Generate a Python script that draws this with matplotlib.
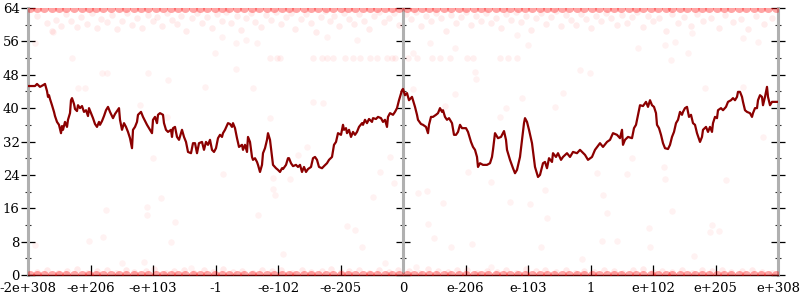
import matplotlib
matplotlib.use('Agg')
import matplotlib.pyplot as plt
from matplotlib.ticker import MultipleLocator

##---------------------------input data-------------------------------##
tick_pos = [-6, -5, -4, -3, -2, -1, 0, 1, 2, 3, 4, 5, 6]
tick_labels = ['-2e+308', '-e+206', '-e+103', '-1', '-e-102', '-e-205', '0',
               'e-206', 'e-103', '1', 'e+102', 'e+205', 'e+308']

# the dark red curve
line_x = [-6.0, -5.888, -5.856, -5.808, -5.76, -5.728, -5.696, -5.68, -5.664, -5.648, -5.616, -5.584,
          -5.568, -5.536, -5.504, -5.472, -5.456, -5.44, -5.408, -5.376, -5.36, -5.328, -5.312, -5.296,
          -5.264, -5.248, -5.216, -5.2, -5.168, -5.136, -5.104, -5.072, -5.04, -5.024, -4.992, -4.96,
          -4.928, -4.896, -4.864, -4.848, -4.816, -4.784, -4.752, -4.72, -4.688, -4.656, -4.64, -4.608,
          -4.576, -4.544, -4.528, -4.496, -4.464, -4.432, -4.4, -4.368, -4.336, -4.32, -4.288, -4.256,
          -4.24, -4.192, -4.16, -4.096, -4.048, -4.016, -4.0, -3.968, -3.936, -3.92, -3.888, -3.84,
          -3.824, -3.792, -3.76, -3.712, -3.696, -3.68, -3.648, -3.616, -3.584, -3.536, -3.504, -3.472,
          -3.44, -3.392, -3.36, -3.328, -3.296, -3.264, -3.216, -3.184, -3.152, -3.12, -3.088, -3.056,
          -3.024, -2.992, -2.96, -2.928, -2.896, -2.88, -2.848, -2.8, -2.768, -2.736, -2.72, -2.688,
          -2.656, -2.624, -2.576, -2.56, -2.528, -2.496, -2.48, -2.448, -2.416, -2.4, -2.368, -2.336,
          -2.32, -2.288, -2.256, -2.24, -2.208, -2.176, -2.16, -2.128, -2.096, -2.08, -2.032, -2.0,
          -1.968, -1.936, -1.92, -1.872, -1.84, -1.824, -1.792, -1.76, -1.712, -1.68, -1.648, -1.616,
          -1.584, -1.552, -1.52, -1.472, -1.44, -1.408, -1.376, -1.344, -1.296, -1.264, -1.216, -1.184,
          -1.136, -1.104, -1.072, -1.04, -0.992, -0.96, -0.944, -0.912, -0.896, -0.864, -0.832, -0.8,
          -0.768, -0.736, -0.704, -0.656, -0.64, -0.608, -0.576, -0.544, -0.496, -0.48, -0.432, -0.4,
          -0.352, -0.32, -0.288, -0.256, -0.24, -0.208, -0.16, -0.128, -0.096, -0.064, -0.016,
          0.0, 0.032, 0.064, 0.096, 0.144, 0.16, 0.192, 0.224, 0.24, 0.288, 0.32, 0.368, 0.4, 0.416,
          0.448, 0.48, 0.528, 0.56, 0.592, 0.624, 0.64, 0.672, 0.704, 0.736, 0.784, 0.816, 0.848, 0.88,
          0.912, 0.944, 0.976, 1.008, 1.04, 1.088, 1.12, 1.152, 1.184, 1.2, 1.232, 1.28, 1.344, 1.392,
          1.424, 1.44, 1.472, 1.52, 1.568, 1.616, 1.648, 1.664, 1.712, 1.76, 1.792, 1.824, 1.872, 1.904,
          1.936, 1.952, 1.984, 2.016, 2.064, 2.112, 2.16, 2.192, 2.24, 2.272, 2.304, 2.336, 2.384, 2.4,
          2.448, 2.48, 2.528, 2.56, 2.624, 2.672, 2.72, 2.784, 2.832, 2.912, 2.96, 3.024, 3.072, 3.152,
          3.2, 3.264, 3.312, 3.36, 3.424, 3.472, 3.504, 3.52, 3.552, 3.6, 3.664, 3.696, 3.728, 3.76,
          3.792, 3.84, 3.888, 3.92, 3.952, 3.984, 4.016, 4.048, 4.064, 4.096, 4.128, 4.16, 4.192, 4.24,
          4.272, 4.304, 4.336, 4.368, 4.4, 4.432, 4.464, 4.48, 4.512, 4.544, 4.576, 4.608, 4.64, 4.672,
          4.704, 4.752, 4.784, 4.8, 4.848, 4.88, 4.912, 4.944, 4.96, 4.992, 5.024, 5.04, 5.088, 5.12,
          5.168, 5.2, 5.248, 5.28, 5.312, 5.344, 5.36, 5.392, 5.424, 5.44, 5.472, 5.504, 5.552, 5.584,
          5.6, 5.632, 5.664, 5.68, 5.712, 5.744, 5.76, 5.792, 5.824, 5.84, 5.872, 5.904, 5.952, 6.0]
line_y = [45.3, 45.3, 45.8, 45.1, 45.5, 45.8, 44.1, 42.7, 43.1, 42.2, 40.7, 39.1,
          38.1, 36.7, 36.0, 34.0, 35.7, 34.8, 36.7, 35.5, 37.2, 38.8, 41.9, 42.4,
          41.0, 39.8, 39.3, 40.7, 40.0, 40.5, 39.1, 39.5, 38.1, 40.0, 38.8, 37.6,
          36.2, 35.5, 36.7, 36.0, 36.9, 38.1, 39.5, 40.3, 39.1, 38.1, 37.6, 38.6,
          39.3, 40.0, 37.2, 34.8, 36.4, 35.5, 34.3, 32.8, 30.4, 34.8, 35.5, 36.7,
          38.4, 39.1, 37.9, 36.0, 34.8, 34.0, 37.2, 37.9, 36.4, 38.4, 38.8, 38.4,
          36.4, 34.8, 34.3, 34.8, 33.1, 35.2, 35.5, 33.1, 32.4, 34.8, 33.1, 31.9,
          29.5, 29.2, 31.6, 31.6, 29.2, 31.6, 31.9, 30.0, 31.9, 31.2, 32.4, 30.0,
          29.5, 30.4, 32.8, 33.6, 33.1, 34.0, 34.8, 36.4, 36.2, 35.5, 36.4, 35.2,
          32.8, 30.7, 31.2, 30.0, 31.2, 29.5, 33.1, 31.9, 28.3, 27.6, 28.0, 27.1,
          26.4, 24.7, 26.4, 29.2, 30.4, 32.4, 34.0, 32.4, 28.3, 26.4, 25.6, 25.2,
          24.7, 25.6, 25.4, 26.4, 28.0, 28.0, 26.8, 26.1, 26.4, 25.9, 26.4, 24.7,
          25.9, 24.7, 25.4, 25.9, 28.0, 28.3, 27.6, 25.9, 25.6, 26.1, 26.8, 27.6,
          28.3, 31.2, 31.9, 34.0, 33.6, 36.0, 34.8, 35.2, 34.0, 34.8, 33.1, 34.3,
          33.6, 34.3, 35.5, 36.4, 36.0, 37.2, 36.4, 37.4, 36.7, 37.6, 37.4, 37.9,
          37.6, 36.7, 37.2, 35.5, 37.9, 38.8, 38.4, 39.1, 40.0, 41.9, 44.3,
          44.6, 43.1, 43.6, 41.9, 42.7, 41.9, 40.3, 38.4, 37.2, 36.2, 36.0, 35.5, 34.0, 36.0,
          37.9, 37.9, 38.4, 38.8, 40.0, 39.1, 39.5, 37.9, 37.2, 37.6, 36.4, 33.6, 33.6, 34.3,
          36.0, 35.2, 35.2, 35.2, 34.3, 31.9, 30.7, 30.0, 28.3, 25.9, 26.8, 26.4, 26.4, 26.8,
          28.3, 30.0, 34.0, 32.8, 33.1, 34.5, 32.4, 30.0, 27.6, 25.6, 24.4, 25.2, 28.3, 32.4,
          36.4, 37.6, 36.7, 34.8, 31.6, 25.9, 23.5, 24.0, 26.8, 27.1, 25.6, 28.0, 27.1, 29.2,
          28.3, 29.2, 27.6, 28.3, 29.2, 28.3, 29.5, 29.2, 30.0, 28.8, 27.6, 28.3, 30.0, 31.6,
          30.7, 31.9, 32.4, 34.0, 33.6, 32.8, 34.8, 31.2, 32.4, 33.1, 32.8, 35.2, 36.0, 38.4,
          40.7, 40.5, 41.5, 40.3, 41.9, 40.7, 40.3, 38.8, 36.0, 35.2, 33.6, 31.6, 30.4, 30.2,
          31.2, 33.1, 34.3, 36.4, 37.2, 39.1, 38.4, 39.1, 40.0, 40.3, 37.9, 38.4, 36.4, 36.0,
          34.0, 31.9, 33.1, 34.8, 35.5, 34.3, 35.5, 34.3, 36.4, 37.9, 37.6, 39.5, 40.0, 39.5,
          40.3, 41.5, 41.9, 42.4, 41.9, 42.7, 43.9, 43.9, 42.7, 41.5, 39.5, 39.1, 38.8, 37.9,
          38.8, 40.0, 40.0, 41.9, 43.1, 42.7, 40.7, 42.7, 45.1, 42.7, 40.7, 41.5, 41.5, 41.5]

# faint sample cloud near the top
top_x = [-5.86, -5.7, -5.62, -5.55, -5.47, -5.4, -5.31, -5.22, -5.15, -5.06, -4.98, -4.9, -4.83,
         -4.74, -4.65, -4.58, -4.5, -4.41, -4.33, -4.25, -4.17, -4.08, -4.0, -3.93, -3.85, -3.78,
         -3.7, -3.61, -3.55, -3.47, -3.38, -3.3, -3.22, -3.14, -3.06, -2.98, -2.9, -2.83, -2.75,
         -2.66, -2.6, -2.52, -2.44, -2.37, -2.28, -2.2, -2.12, -2.04, -1.96, -1.88, -1.8, -1.73,
         -1.64, -1.56, -1.48, -1.4, -1.32, -1.25, -1.17, -1.1, -1.02, -0.94, -0.86, -0.78, -0.7,
         -0.62, -0.55, -0.46, -0.38, -0.3, -0.22, -0.14, -0.06, 0.04, 0.12, 0.2, 0.28, 0.36, 0.44,
         0.52, 0.6, 0.68, 0.76, 0.84, 0.92, 1.0, 1.08, 1.16, 1.24, 1.32, 1.4, 1.48, 1.56, 1.64,
         1.72, 1.8, 1.88, 1.96, 2.04, 2.12, 2.2, 2.28, 2.36, 2.44, 2.52, 2.6, 2.68, 2.76, 2.84,
         2.92, 3.0, 3.08, 3.17, 3.25, 3.33, 3.42, 3.5, 3.58, 3.67, 3.75, 3.84, 3.92, 4.0, 4.1,
         4.2, 4.3, 4.4, 4.5, 4.6, 4.7, 4.8, 4.92, 5.05, 5.15, 5.28, 5.4, 5.52, 5.65, 5.78, 5.9]
top_y = [62.1, 60.3, 58.4, 61.2, 59.8, 62.6, 60.9, 59.5, 61.8, 60.2, 62.9, 59.1, 61.4,
         60.6, 62.3, 58.9, 61.0, 62.7, 60.0, 61.7, 59.3, 62.4, 60.8, 61.9, 59.6, 62.8,
         61.1, 60.1, 62.2, 58.6, 61.5, 62.9, 60.4, 61.8, 59.2, 62.5, 61.0, 63.1, 60.3,
         62.0, 58.7, 61.6, 62.8, 60.7, 59.4, 62.3, 61.2, 63.0, 60.1, 61.9, 62.7, 59.0,
         61.4, 62.6, 60.5, 58.2, 61.8, 63.2, 60.9, 62.1, 59.7, 62.9, 61.3, 60.2, 62.5,
         61.0, 58.9, 62.2, 63.1, 60.6, 61.7, 62.8, 60.0, 62.6, 61.3, 63.0, 59.8, 62.1, 60.9,
         62.9, 61.5, 58.5, 62.4, 60.4, 61.8, 63.1, 59.9, 62.2, 61.0, 62.8, 60.3, 61.6, 59.1,
         62.5, 61.2, 63.0, 60.7, 62.0, 58.8, 61.5, 62.7, 60.2, 61.9, 63.2, 59.6, 62.3, 61.1,
         60.0, 62.6, 61.4, 59.3, 62.1, 60.8, 62.9, 61.6, 59.9, 62.4, 60.5, 61.8, 63.0, 59.4,
         62.2, 60.9, 61.7, 58.6, 62.5, 60.3, 61.9, 59.7, 62.6, 60.8, 61.5, 59.2, 62.3, 60.6,
         61.4, 58.9, 62.0, 60.1, 61.7]

# row of samples near 52
row_x = [-2.128, -2.016, -1.968, -1.44, -1.296, -1.216, -1.12, -0.928, -0.8, -0.688, -0.528,
         -0.416, -0.256, -0.176, -0.128, 0.08, 0.224, 0.464, 0.592, 0.752, 1.024, 1.12, 1.552,
         1.68, 1.824]
row_y = [52.0, 52.0, 52.0, 52.0, 52.0, 52.0, 52.0, 52.0, 52.0, 52.0, 52.0,
         52.0, 52.0, 52.0, 52.0, 52.0, 52.0, 52.0, 52.0, 52.0, 52.0, 52.0, 52.0,
         52.0, 52.0]

# scattered samples in the middle of the range
mid_x = [-5.888, -5.6, -5.296, -4.816, -4.736, -5.2, -5.088, -4.08, -3.76, -4.208, -3.776,
         -5.888, -5.024, -4.8, -4.752, -4.496, -4.144, -4.096, -4.096, -4.0, -3.872, -3.712,
         -3.648, -3.392, -2.88, -2.08, -2.048, -2.08, -2.32, -1.808, -1.68, -1.92, -0.896,
         -0.768, -0.656, -0.48, -0.368, -0.144, -0.288, -0.208, 0.24, 0.384, 0.64, 1.04, 1.408,
         0.4, 0.496, 0.768, 1.104, 0.208, 1.408, 1.712, 2.032, 2.272, 2.304, 2.208, 2.864,
         3.104, 3.664, 3.584, 4.176, 4.192, 3.2, 3.264, 3.184, 3.424, 3.936, 3.952, 4.304,
         5.168, 4.944, 4.912, 5.056, 4.656, 4.832, 5.76, 5.44, 4.56, 4.288, 3.76, 4.192, 4.352,
         4.624, 5.44, 5.68, 2.832, 2.992, 2.56, 2.432, 1.904, 1.552, 1.648, 1.152, 1.168,
         0.832, 0.672, 0.16, 0.16, 0.432, 0.832, 2.0, 1.824, -3.168, -3.008, -2.672, -2.4,
         -2.128, -1.44, -1.28, -1.536, -2.512, -2.336, -2.672, -2.896, -1.216, -0.736]
mid_y = [55.6, 58.2, 52.0, 48.4, 48.4, 44.8, 44.8, 48.4, 46.7, 40.7, 37.9,
         7.2, 8.1, 9.1, 15.6, 2.9, 3.1, 14.4, 16.3, 28.0, 18.5, 7.9,
         12.7, 1.7, 24.2, 23.2, 19.2, 20.6, 14.4, 23.0, 28.8, 5.0, 11.7,
         10.8, 6.7, 18.7, 24.7, 22.0, 2.9, 28.3, 19.7, 20.1, 17.3, 24.7, 22.3,
         12.2, 8.9, 6.7, 7.4, 1.9, 1.9, 17.5, 17.0, 20.4, 13.7, 6.7, 3.8,
         24.4, 28.0, 24.2, 25.9, 23.0, 19.2, 14.9, 8.1, 8.1, 11.3, 6.7, 15.3,
         22.8, 12.0, 10.3, 10.5, 4.6, 44.8, 33.1, 45.0, 53.2, 51.5, 54.4, 55.1, 55.8,
         58.0, 56.8, 55.8, 49.1, 48.4, 43.6, 40.3, 42.4, 37.9, 40.0, 48.7, 47.0,
         43.4, 40.5, 44.6, 53.2, 55.6, 54.4, 55.1, 57.5, 45.0, 53.2, 49.4, 44.8,
         37.6, 41.5, 41.2, 30.7, 56.3, 55.6, 55.6, 57.0, 57.0, 56.3]

# faint sample cloud near the bottom
low_x = [-5.85, -5.7, -5.52, -5.38, -5.21, -5.05, -4.9, -4.74, -4.6, -4.43, -4.3, -4.12, -3.98,
         -3.8, -3.66, -3.5, -3.35, -3.18, -3.04, -2.88, -2.72, -2.58, -2.4, -2.26, -2.1, -1.95,
         -1.78, -1.62, -1.48, -1.3, -1.16, -1.0, -0.86, -0.7, -0.55, -0.38, -0.22, -0.08, 0.1,
         0.25, 0.4, 0.56, 0.72, 0.86, 1.02, 1.18, 1.34, 1.5, 1.64, 1.8, 1.96, 2.12, 2.27, 2.44,
         2.6, 2.75, 2.9, 3.06, 3.22, 3.38, 3.52, 3.68, 3.84, 4.0, 4.15, 4.3, 4.46, 4.62, 4.78,
         4.94, 5.1, 5.25, 5.42, 5.58, 5.74, 5.9]
low_y = [0.8, 1.2, 0.5, 1.0, 1.4, 0.6, 0.9, 1.1, 0.4, 1.3, 0.7, 1.0, 1.5,
         0.6, 0.9, 1.2, 0.5, 1.1, 0.8, 1.4, 0.7, 1.0, 0.5, 1.3, 0.9, 1.1,
         0.6, 1.2, 0.8, 1.0, 1.5, 0.7, 0.9, 1.3, 0.5, 1.1, 0.8, 1.2, 1.0,
         0.6, 1.4, 0.9, 0.7, 1.1, 1.3, 0.5, 1.0, 0.8, 1.2, 0.6, 1.4, 0.9, 1.1, 0.7,
         1.3, 0.5, 1.0, 0.8, 1.2, 0.9, 0.6, 1.1, 1.4, 0.7, 1.0, 0.8, 1.2, 0.5, 1.3,
         0.9, 1.1, 0.7, 1.0, 1.2, 0.8, 0.6]

# samples sitting exactly at the edges (0 and 64)
edge_x = [-5.97, -5.86, -5.74, -5.61, -5.5, -5.39, -5.27, -5.14, -5.03, -4.91, -4.8, -4.67, -4.55,
          -4.44, -4.31, -4.2, -4.08, -3.95, -3.84, -3.72, -3.6, -3.49, -3.36, -3.25, -3.13, -3.01,
          -2.89, -2.78, -2.65, -2.54, -2.42, -2.3, -2.18, -2.07, -1.94, -1.83, -1.71, -1.59, -1.47,
          -1.36, -1.23, -1.12, -1.0, -0.88, -0.77, -0.64, -0.53, -0.41, -0.29, -0.17, -0.06, 0.06,
          0.18, 0.3, 0.41, 0.53, 0.66, 0.77, 0.89, 1.01, 1.13, 1.24, 1.36, 1.48, 1.6, 1.71, 1.84,
          1.95, 2.07, 2.19, 2.31, 2.42, 2.55, 2.66, 2.78, 2.9, 3.02, 3.13, 3.26, 3.37, 3.49, 3.61,
          3.73, 3.84, 3.96, 4.08, 4.2, 4.31, 4.43, 4.55, 4.67, 4.78, 4.9, 5.02, 5.14, 5.25, 5.37,
          5.49, 5.61, 5.72, 5.84, 5.96]
edge_low = [0.0] * len(edge_x)
edge_high = [64.0] * len(edge_x)

##----------------------------plot------------------------------------##
plt.rcParams['font.family'] = ['DejaVu Serif']
plt.rcParams['font.size'] = 9.5

fig = plt.figure(figsize=(8, 3), dpi=100)
ax = fig.add_axes([0.035, 0.0833, 0.9375, 0.89])

ax.scatter(top_x, top_y, s=22, color='red', alpha=0.07, linewidths=0, zorder=2)
ax.scatter(row_x, row_y, s=22, color='red', alpha=0.06, linewidths=0, zorder=2)
ax.scatter(mid_x, mid_y, s=22, color='red', alpha=0.05, linewidths=0, zorder=2)
ax.scatter(low_x, low_y, s=22, color='red', alpha=0.08, linewidths=0, zorder=2)
ax.scatter(edge_x, edge_low, s=42, color='red', alpha=0.35, linewidths=0, zorder=4)
ax.scatter(edge_x, edge_high, s=42, color='red', alpha=0.35, linewidths=0, zorder=4)

ax.plot(line_x, line_y, color='#8b0000', lw=1.6, zorder=5)

ax.set_xlim(-6, 6)
ax.set_ylim(0, 64)

# axes look
ax.spines['top'].set_visible(False)
ax.spines['bottom'].set_color('black')
ax.spines['bottom'].set_linewidth(1.0)
for side in ['left', 'right']:
    ax.spines[side].set_color('#b0b0b0')
    ax.spines[side].set_linewidth(2.2)

ax.set_xticks(tick_pos)
ax.set_xticklabels(tick_labels)
ax.tick_params(axis='x', direction='in', length=7, width=0.9, color='black', pad=5)

ax.yaxis.set_major_locator(MultipleLocator(8))
ax.yaxis.set_minor_locator(MultipleLocator(4))
ax.yaxis.set_ticks_position('both')
ax.tick_params(axis='y', which='major', direction='inout', length=10, width=0.9,
               color='black', pad=1, left=True, right=True, labelright=False)
ax.tick_params(axis='y', which='minor', direction='inout', length=5, width=0.8,
               color='#333333', left=True, right=True)

# vertical axis in the middle at 0
ax.axvline(0, color='#b0b0b0', lw=2.2, zorder=3)
mid_axis = ax.secondary_yaxis(0.5)
mid_axis.yaxis.set_major_locator(MultipleLocator(8))
mid_axis.yaxis.set_minor_locator(MultipleLocator(4))
for sp in mid_axis.spines.values():
    sp.set_visible(False)
mid_axis.tick_params(which='major', direction='inout', length=10, width=0.9, color='black',
                     labelleft=False, labelright=False)
mid_axis.tick_params(which='minor', direction='inout', length=5, width=0.8, color='#333333')

fig.savefig('out.png', dpi=100)
